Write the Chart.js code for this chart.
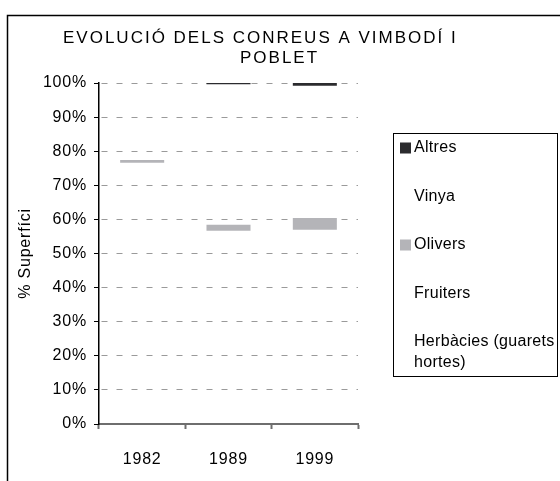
<!DOCTYPE html>
<html lang="ca">
<head>
  <meta charset="UTF-8" />
  <title>Evolució dels conreus a Vimbodí i Poblet</title>
  <script src="https://cdn.jsdelivr.net/npm/chart.js"></script>
  <style>
    body {
      margin: 0;
      padding: 0;
      background: #fff;
    }

    .chart-box {
      position: relative;
      width: 560px;
      height: 481px;
    }
  </style>
</head>
<body>
  <div class="chart-box">
    <canvas id="conreus"></canvas>
  </div>

  <script>
    // dades (percentatge de superfície)
    const anys = ['1982', '1989', '1999'];
    const herbacies = [40.0, 30.0, 30.0];
    const fruiters = [36.6, 26.7, 27.0];
    const olivers = [0.8, 1.7, 3.4];
    const vinya = [22.6, 41.2, 38.8];
    const altres = [0.0, 0.4, 0.8];
    const yTicks = [0, 10, 20, 30, 40, 50, 60, 70, 80, 90, 100];

    const titol = ['EVOLUCIÓ DELS CONREUS A VIMBODÍ I', 'POBLET'];
    const FONT = "'Liberation Sans', Arial, sans-serif";

    Chart.defaults.font.family = FONT;
    Chart.defaults.font.size = 16;
    Chart.defaults.color = '#000';

    const cap = 'rgba(0,0,0,0)';

    // marc, títol i llegenda
    const decor = {
      id: 'decor',
      beforeDraw(chart) {
        chart.ctx.letterSpacing = '0.8px';
      },
      afterDraw(chart) {
        const ctx = chart.ctx;
        ctx.save();

        // marc exterior
        ctx.strokeStyle = '#000';
        ctx.lineWidth = 1.5;
        ctx.beginPath();
        ctx.moveTo(7.5, 481);
        ctx.lineTo(7.5, 15.5);
        ctx.lineTo(560, 15.5);
        ctx.stroke();

        // títol
        ctx.fillStyle = '#000';
        ctx.font = '17px ' + FONT;
        ctx.letterSpacing = '2px';
        ctx.textAlign = 'left';
        ctx.textBaseline = 'alphabetic';
        ctx.fillText(titol[0], 63, 43);
        ctx.fillText(titol[1], 240, 63);

        // llegenda
        const lx = 393.5, ly = 133.5, lw = 164, lh = 243;
        ctx.font = '16px ' + FONT;
        ctx.lineWidth = 1;
        ctx.strokeRect(lx, ly, lw, lh);
        ctx.beginPath();
        ctx.rect(lx, ly, lw - 2, lh);
        ctx.clip();

        ctx.letterSpacing = '0.3px';
        ctx.textBaseline = 'middle';
        const sets = chart.data.datasets.slice().reverse();
        sets.forEach((ds, i) => {
          const y = 148 + i * 48.5;
          ctx.fillStyle = ds.backgroundColor;
          ctx.fillRect(400, y - 5.5, 11, 11);
          ctx.fillStyle = '#000';
          const paraules = ds.label.split(' ');
          const linies = [];
          let actual = '';
          paraules.forEach(p => {
            const prova = actual ? actual + ' ' + p : p;
            if (ctx.measureText(prova).width > 160 && actual) {
              linies.push(actual);
              actual = p;
            } else {
              actual = prova;
            }
          });
          linies.push(actual);
          linies.forEach((t, k) => ctx.fillText(t, 414, y + k * 21));
        });

        ctx.restore();
      }
    };

    new Chart(document.getElementById('conreus'), {
      type: 'bar',
      data: {
        labels: anys,
        datasets: [
          { label: 'Herbàcies (guarets i hortes)', data: herbacies, backgroundColor: cap },
          { label: 'Fruiters', data: fruiters, backgroundColor: cap },
          { label: 'Olivers', data: olivers, backgroundColor: '#b4b4b8' },
          { label: 'Vinya', data: vinya, backgroundColor: cap },
          { label: 'Altres', data: altres, backgroundColor: '#2b2b2e' }
        ]
      },
      options: {
        responsive: true,
        maintainAspectRatio: false,
        animation: false,
        layout: {
          padding: { top: 83, right: 202, left: 0, bottom: 0 }
        },
        datasets: {
          bar: {
            categoryPercentage: 1,
            barPercentage: 0.51,
            borderWidth: 0
          }
        },
        plugins: {
          legend: { display: false },
          title: { display: false },
          tooltip: { enabled: false }
        },
        scales: {
          x: {
            stacked: true,
            afterFit(scale) { scale.height = 57; },
            grid: {
              offset: true,
              drawOnChartArea: false,
              drawTicks: true,
              tickLength: 5,
              tickColor: '#6e6e6e',
              tickWidth: 2
            },
            border: { color: '#6e6e6e', width: 2 },
            ticks: { padding: 21, font: { size: 16 } }
          },
          y: {
            stacked: true,
            min: 0,
            max: 100,
            afterFit(scale) { scale.width = 99; },
            afterBuildTicks(scale) {
              scale.ticks = yTicks.map(v => ({ value: v }));
            },
            grid: {
              color: '#9a9a9a',
              lineWidth: 1,
              tickLength: 5,
              tickColor: '#000',
              tickWidth: 1,
              tickBorderDash: []
            },
            border: { color: '#000', width: 1.5, dash: [6, 9], dashOffset: -2 },
            ticks: {
              padding: 7,
              font: { size: 16 },
              callback: v => v + '%'
            },
            title: {
              display: true,
              text: '% Superfíci',
              font: { size: 16 },
              padding: { top: 16, bottom: 0 }
            }
          }
        }
      },
      plugins: [decor]
    });
  </script>
</body>
</html>
